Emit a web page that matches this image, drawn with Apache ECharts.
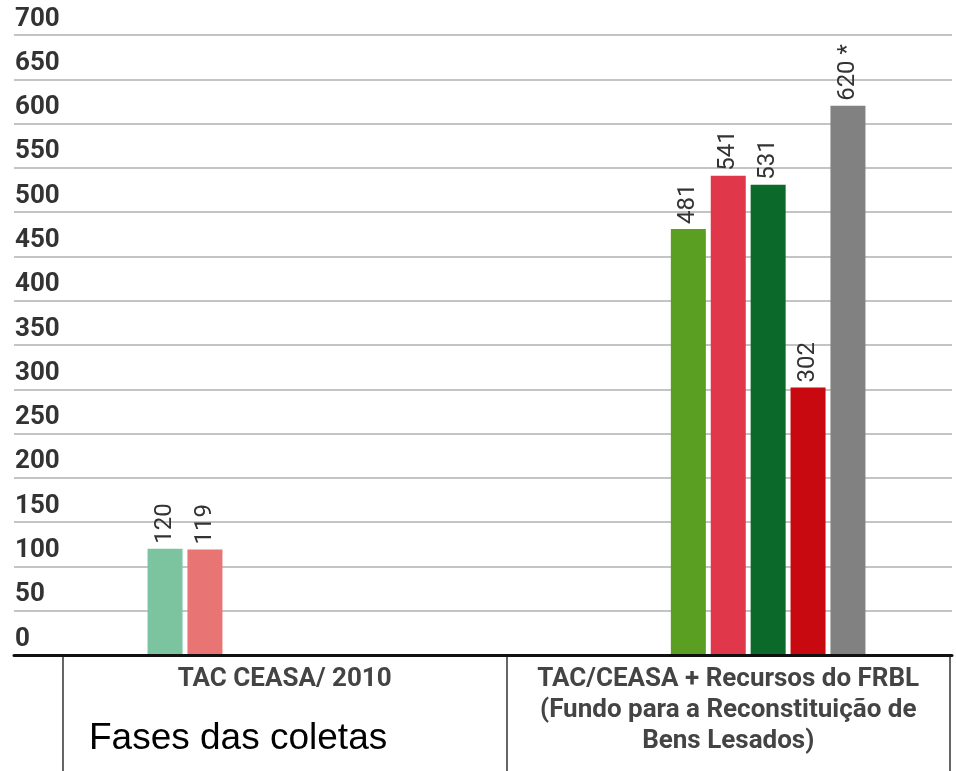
<!DOCTYPE html>
<html>
<head>
<meta charset="utf-8">
<script src="https://cdn.jsdelivr.net/npm/echarts@6/dist/echarts.min.js"></script>
<style>html,body{margin:0;padding:0;background:#fff}#c{width:956px;height:771px}</style>
</head>
<body>
<div id="c"></div>
<script>
const categories = ['TAC CEASA/ 2010', 'TAC/CEASA + Recursos do FRBL\n(Fundo para a Reconstituição de\nBens Lesados)'];
const yTicks = [0, 700, 50];
const s1 = [120, null];
const s2 = [119, null];
const s3 = [null, 481];
const s4 = [null, 541];
const s5 = [null, 531];
const s6 = [null, 302];
const s7 = [null, 620];
const seriesData = [s1, s2, s3, s4, s5, s6, s7];
const seriesColors = ['#7cc4a0', '#e87474', '#5a9e22', '#e0384a', '#0b6a2a', '#c80a10', '#818181'];
const labelSuffix = ['', '', '', '', '', '', ' *'];
const xTitle = 'Fases das coletas';

const chart = echarts.init(document.getElementById('c'));
const FONT = 'Roboto, "Noto Sans", sans-serif';
chart.setOption({
  animation: false,
  title: {
    text: xTitle, left: 84, top: 715,
    textStyle: { fontFamily: 'Liberation Sans, Arial, sans-serif', fontSize: 37, fontWeight: 'normal', color: '#000' }
  },
  grid: [
    { left: 14, right: 4, top: 35, bottom: 116 },
    { left: 63, right: 6, top: 35, bottom: 116 }
  ],
  xAxis: [
    { gridIndex: 0, type: 'category', data: ['a'], axisLine: { show: true, lineStyle: { color: '#111', width: 3 } }, axisTick: { show: false }, axisLabel: { show: false }, z: 10 },
    { gridIndex: 1, type: 'category', data: categories,
      axisLine: { show: false },
      axisTick: { show: true, length: 116, lineStyle: { color: '#666', width: 2 } },
      axisLabel: { interval: 0, margin: 9, fontFamily: FONT, fontSize: 26, fontWeight: 'bold', color: '#444', lineHeight: 31, verticalAlign: 'top' } }
  ],
  yAxis: [
    { gridIndex: 0, type: 'value', min: yTicks[0], max: yTicks[1], interval: yTicks[2],
      axisLine: { show: false }, axisTick: { show: false },
      splitLine: { lineStyle: { color: '#c4c4c4', width: 2 } },
      axisLabel: { inside: true, margin: 1, align: 'left', verticalAlign: 'bottom', padding: [0, 0, 3, 0],
        fontFamily: FONT, fontSize: 26, fontWeight: 'bold', color: '#333' } },
    { gridIndex: 1, type: 'value', min: yTicks[0], max: yTicks[1], interval: yTicks[2], show: false, splitLine: { show: false } }
  ],
  series: seriesData.map((d, i) => ({
    type: 'bar', xAxisIndex: 1, yAxisIndex: 1, data: d,
    barWidth: 35, barGap: '14%',
    itemStyle: { color: seriesColors[i] },
    label: { show: true, position: 'top', rotate: 90, align: 'left', verticalAlign: 'middle', distance: 5,
      fontFamily: FONT, fontSize: 24, color: '#333',
      formatter: p => p.value + labelSuffix[i] }
  }))
});
</script>
</body>
</html>
